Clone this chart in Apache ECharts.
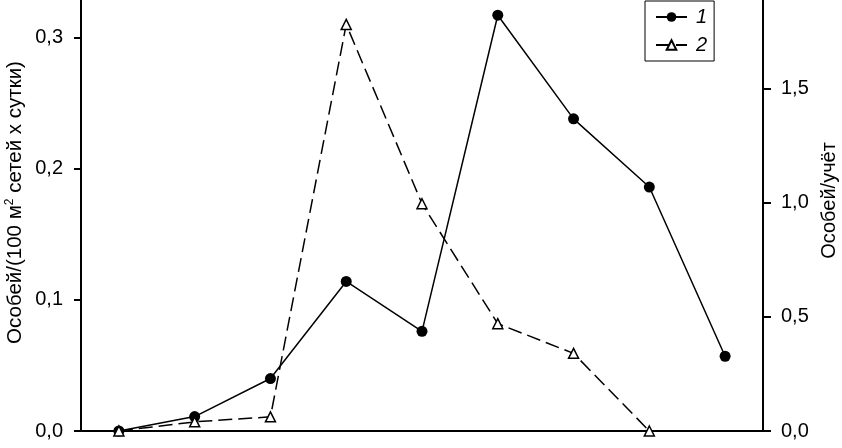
<!DOCTYPE html>
<html>
<head>
<meta charset="utf-8">
<script src="https://cdn.jsdelivr.net/npm/echarts@6/dist/echarts.min.js"></script>
<style>
  html, body { margin: 0; padding: 0; background: #fff; }
  #chart { width: 842px; height: 448px; }
</style>
</head>
<body>
<div id="chart"></div>
<script>
// nine sampling periods, x labels are cut off in the source
const periods = ['1', '2', '3', '4', '5', '6', '7', '8', '9']
// 1 - individuals per (100 m2 nets x day), left axis
const netCatch = [0, 0.011, 0.040, 0.114, 0.076, 0.317, 0.238, 0.186, 0.057]
// 2 - individuals per count, right axis
const countCatch = [0, 0.04, 0.062, 1.78, 0.995, 0.47, 0.34, 0, null]
const leftTicks = [0, 0.1, 0.2, 0.3]
const rightTicks = [0, 0.5, 1.0, 1.5]

const font = 'Liberation Sans'
const comma = v => v.toFixed(1).replace('.', ',')

const chart = echarts.init(document.getElementById('chart'))
chart.setOption({
  animation: false,
  textStyle: { fontFamily: font, color: '#000' },
  grid: { left: 81, right: 79, top: 0, bottom: 17, outerBoundsMode: 'none', containLabel: false },
  legend: {
    orient: 'vertical',
    left: 645,
    top: 1,
    padding: [6, 7, 6, 10],
    borderColor: '#000',
    borderWidth: 1,
    itemWidth: 31,
    itemHeight: 12,
    itemGap: 8,
    textStyle: { fontSize: 20, fontStyle: 'italic', fontFamily: font, color: '#000', lineHeight: 18, padding: [0, 0, 0, 4] },
    data: ['1', '2']
  },
  xAxis: [{
    type: 'category',
    data: periods,
    boundaryGap: true,
    axisLine: { lineStyle: { color: '#000', width: 2 } },
    axisTick: { length: 10, lineStyle: { color: '#000', width: 2 } },
    axisLabel: { show: false }
  }, {
    type: 'category',
    data: periods,
    position: 'bottom',
    boundaryGap: true,
    axisLine: { show: false },
    axisTick: { interval: 2, length: 20, lineStyle: { color: '#000', width: 2 } },
    axisLabel: { show: false }
  }],
  yAxis: [{
    type: 'value',
    min: 0,
    max: 0.3286,
    position: 'left',
    splitLine: { show: false },
    axisLine: { show: true, lineStyle: { color: '#000', width: 2 } },
    axisTick: { show: true, length: 7, customValues: leftTicks, lineStyle: { color: '#000', width: 2 } },
    axisLabel: { customValues: leftTicks, formatter: comma, fontSize: 20, margin: 18, color: '#000' },
    name: 'Особей/(100 м{sup|2} сетей х сутки)',
    nameLocation: 'middle',
    nameGap: 55,
    nameMoveOverlap: false,
    nameTextStyle: {
      fontSize: 20.5, color: '#000', fontFamily: font, padding: [0, 0, 0, 26],
      rich: { sup: { fontSize: 12, verticalAlign: 'top', padding: [0, 0, 10, 0], color: '#000', fontFamily: font } }
    }
  }, {
    type: 'value',
    min: 0,
    max: 1.887,
    position: 'right',
    splitLine: { show: false },
    axisLine: { show: true, lineStyle: { color: '#000', width: 2 } },
    axisTick: { show: true, length: 8, customValues: rightTicks, lineStyle: { color: '#000', width: 2 } },
    axisLabel: { customValues: rightTicks, formatter: comma, fontSize: 20, margin: 18, color: '#000' },
    name: 'Особей/учёт',
    nameLocation: 'middle',
    nameGap: 56,
    nameRotate: 90,
    nameMoveOverlap: false,
    nameTextStyle: { fontSize: 20, color: '#000', fontFamily: font, padding: [0, 0, 0, 30] }
  }],
  series: [{
    name: '1',
    type: 'line',
    yAxisIndex: 0,
    data: netCatch,
    symbol: 'circle',
    symbolSize: 11,
    itemStyle: { color: '#000' },
    lineStyle: { color: '#000', width: 1.5 }
  }, {
    name: '2',
    type: 'line',
    yAxisIndex: 1,
    data: countCatch,
    symbol: 'triangle',
    symbolSize: 10,
    itemStyle: { color: '#fff', borderColor: '#000', borderWidth: 1.5 },
    lineStyle: { color: '#000', width: 1.5, type: [14, 6] }
  }]
})
</script>
</body>
</html>
